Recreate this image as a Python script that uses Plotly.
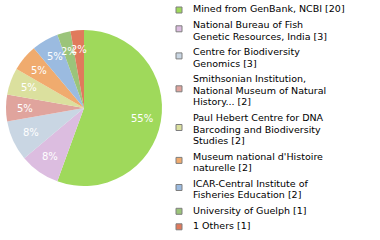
import math
import plotly.graph_objects as go

labels = ["Mined from GenBank, NCBI [20]",
          "National Bureau of Fish<br>Genetic Resources, India [3]",
          "Centre for Biodiversity<br>Genomics [3]",
          "Smithsonian Institution,<br>National Museum of Natural<br>History... [2]",
          "Paul Hebert Centre for DNA<br>Barcoding and Biodiversity<br>Studies [2]",
          "Museum national d'Histoire<br>naturelle [2]",
          "ICAR-Central Institute of<br>Fisheries Education [2]",
          "University of Guelph [1]",
          "1 Others [1]"]
values = [20, 3, 3, 2, 2, 2, 2, 1, 1]
pct_text = ["55%", "8%", "8%", "5%", "5%", "5%", "5%", "2%", "2%"]
colors = ["#9fd95b", "#dcbde0", "#c9d6e3", "#e0a49d", "#dbe09e",
          "#f0ab6e", "#9bbbe0", "#9bc47a", "#e07a5c"]

W, H = 380, 240
cx, cy, R = 84, 108, 78
fig = go.Figure(go.Pie(
    labels=labels, values=values,
    textinfo="none",
    marker=dict(colors=colors, line=dict(width=0)),
    sort=False, direction="clockwise", rotation=0,
    domain=dict(x=[(cx-R)/W, (cx+R)/W], y=[1-(cy+R)/H, 1-(cy-R)/H]),
    hoverinfo="skip", showlegend=False,
))

# percentage labels along slice bisectors
total = sum(values)
cum = 0
for v, t in zip(values, pct_text):
    th = 2*math.pi*(cum + v/2)/total
    cum += v
    px = cx + 0.755*R*math.sin(th)
    py = cy - 0.755*R*math.cos(th)
    fig.add_annotation(x=px/W, y=1-py/H, xref="paper", yref="paper", text=t,
                       showarrow=False, xanchor="center", yanchor="middle",
                       font=dict(size=10, family="DejaVu Sans", color="white"))

# manual legend
line_step = 11.6
item_gap = 15.5
y = 9.0
tx = 191
for lab, col in zip(labels, colors):
    lines = lab.split("<br>")
    n = len(lines)
    for i, ln in enumerate(lines):
        fig.add_annotation(x=tx/W, y=1-(y + i*line_step)/H, xref="paper", yref="paper",
                           text=ln, showarrow=False, xanchor="left", yanchor="middle",
                           font=dict(size=9.5, family="DejaVu Sans", color="black"))
    sy = y + (n-1)*line_step/2 + (1 if n == 1 else -1.5)
    fig.add_shape(type="rect", xref="paper", yref="paper",
                  x0=176/W, x1=182/W, y0=1-(sy-3)/H, y1=1-(sy+3)/H,
                  fillcolor=col, line=dict(color="#7f7f7f", width=1))
    y += (n-1)*line_step + item_gap

fig.update_layout(
    width=W, height=H,
    margin=dict(l=0, r=0, t=0, b=0),
    paper_bgcolor="white", plot_bgcolor="white",
)
fig.write_html("out.html")
